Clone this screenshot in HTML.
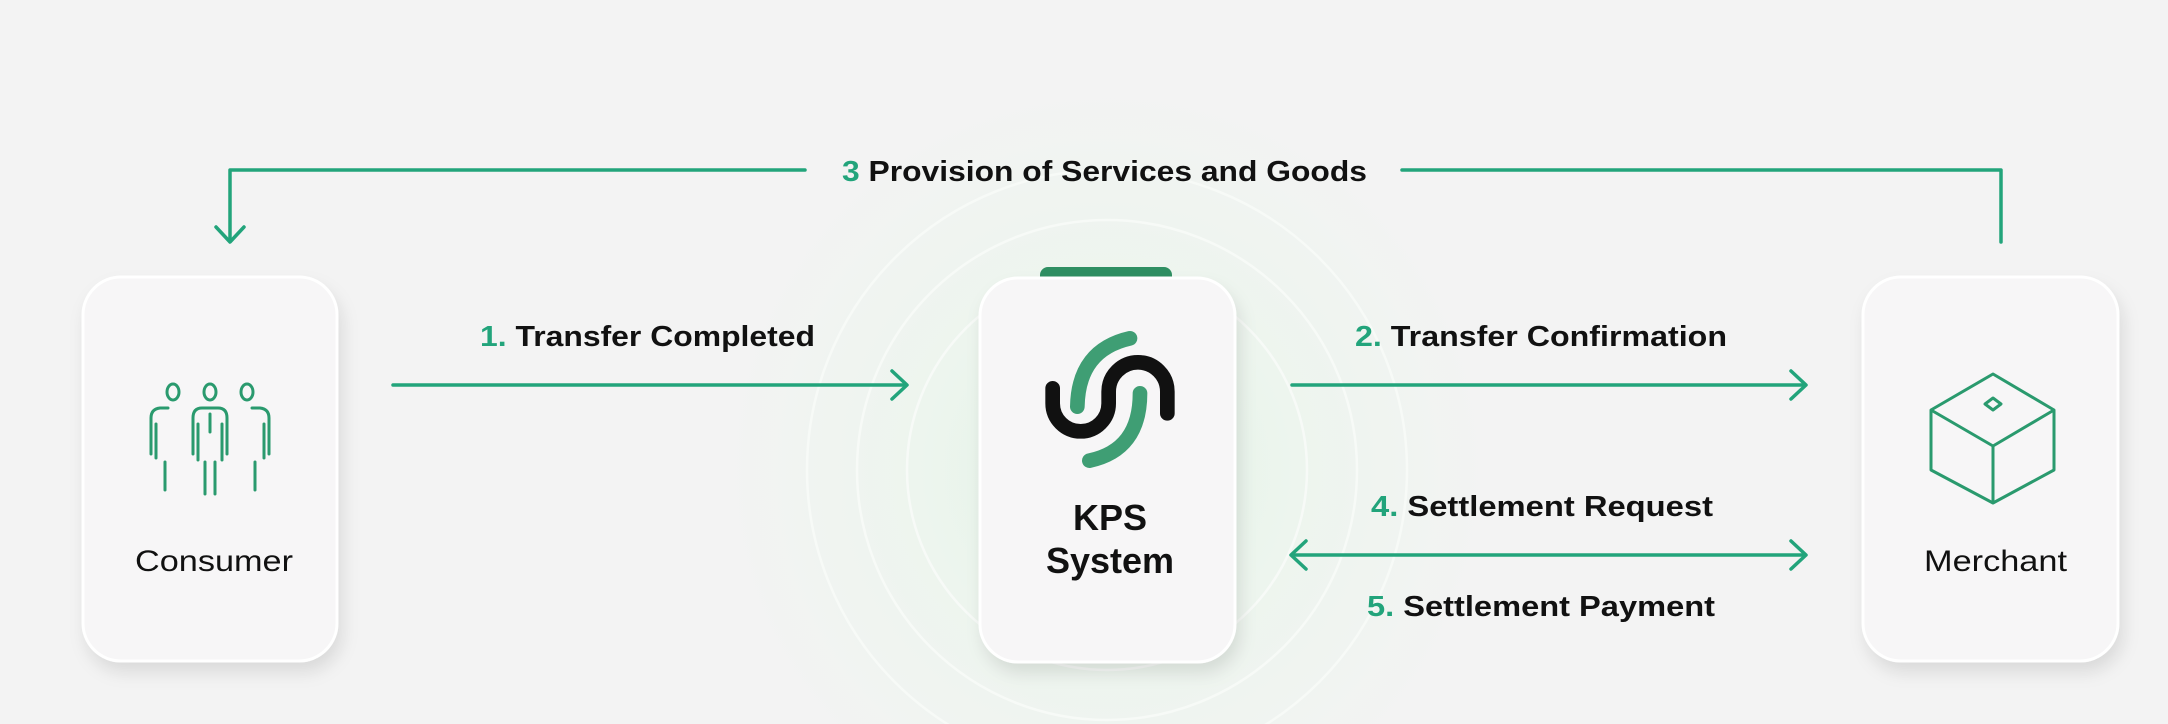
<!DOCTYPE html>
<html><head><meta charset="utf-8"><style>
html,body{margin:0;padding:0;width:2168px;height:724px;overflow:hidden;background:#f3f3f3}
svg{display:block}
text{font-family:"Liberation Sans",sans-serif;font-weight:700}
</style></head><body>
<svg width="2168" height="724" viewBox="0 0 2168 724" xmlns="http://www.w3.org/2000/svg" style="overflow:hidden">
<defs>
<radialGradient id="glow" cx="1107" cy="470" r="380" gradientUnits="userSpaceOnUse">
<stop offset="0" stop-color="#e2f3e6"/>
<stop offset="0.5" stop-color="#edf5ee"/>
<stop offset="1" stop-color="#f3f3f3"/>
</radialGradient>
<filter id="sh" x="-20%" y="-20%" width="140%" height="140%">
<feDropShadow dx="4" dy="10" stdDeviation="8" flood-color="#000" flood-opacity="0.10"/>
</filter>
<clipPath id="cp"><rect width="2168" height="724"/></clipPath>
</defs>
<rect width="2168" height="724" fill="#f3f3f3"/>
<g clip-path="url(#cp)">
<rect x="727" y="90" width="760" height="634" fill="url(#glow)"/>
<g fill="none" stroke="#f7faf7" stroke-width="2.5">
<circle cx="1107" cy="470" r="200"/><circle cx="1107" cy="470" r="250"/><circle cx="1107" cy="470" r="300"/>
</g>
</g>

<!-- cards -->
<rect x="83" y="277" width="254" height="384" rx="38" fill="#f7f6f7" stroke="#ffffff" stroke-width="3" filter="url(#sh)"/>
<rect x="1040" y="267" width="132" height="20" rx="8" fill="#2f8f62"/>
<rect x="980" y="278" width="255" height="384" rx="38" fill="#f7f6f7" stroke="#ffffff" stroke-width="3" filter="url(#sh)"/>
<rect x="1863" y="277" width="255" height="384" rx="38" fill="#f7f6f7" stroke="#ffffff" stroke-width="3" filter="url(#sh)"/>

<!-- connectors -->
<g fill="none" stroke="#22a47b" stroke-width="3.5" stroke-linecap="round" stroke-linejoin="round">
<polyline points="805,170 230,170 230,241"/>
<polyline points="216,227 230,242 244,227"/>
<polyline points="1402,170 2001,170 2001,242"/>
<line x1="393" y1="385" x2="906" y2="385"/>
<polyline points="892,371 907,385 892,399"/>
<line x1="1292" y1="385" x2="1805" y2="385"/>
<polyline points="1791,371 1806,385 1791,399"/>
<line x1="1292" y1="555" x2="1805" y2="555"/>
<polyline points="1791,541 1806,555 1791,569"/>
<polyline points="1306,541 1291,555 1306,569"/>
</g>

<!-- labels -->
<g font-size="29" fill="#111">
<text x="842" y="181" textLength="525" lengthAdjust="spacingAndGlyphs"><tspan fill="#22a47b">3 </tspan>Provision of Services and Goods</text>
<text x="480" y="346" textLength="335" lengthAdjust="spacingAndGlyphs"><tspan fill="#22a47b">1. </tspan>Transfer Completed</text>
<text x="1355" y="346" textLength="372" lengthAdjust="spacingAndGlyphs"><tspan fill="#22a47b">2. </tspan>Transfer Confirmation</text>
<text x="1371" y="516" textLength="342" lengthAdjust="spacingAndGlyphs"><tspan fill="#22a47b">4. </tspan>Settlement Request</text>
<text x="1367" y="616" textLength="348" lengthAdjust="spacingAndGlyphs"><tspan fill="#22a47b">5. </tspan>Settlement Payment</text>
</g>
<g font-size="30" fill="#111">
<text x="135" y="571" textLength="158" lengthAdjust="spacingAndGlyphs" style="font-weight:400">Consumer</text>
<text x="1924" y="571" textLength="143" lengthAdjust="spacingAndGlyphs" style="font-weight:400">Merchant</text>
</g>
<g font-size="36" fill="#111" text-anchor="middle">
<text x="1110" y="530">KPS</text>
<text x="1110" y="573">System</text>
</g>

<!-- KPS logo -->
<svg x="960" y="250" width="300" height="430" viewBox="0 0 900 1290">
<g fill="none" stroke-linecap="round" stroke-width="44">
<path d="M510,265 Q355,300 352,470" stroke="#3f9e74"/>
<path d="M540,430 Q540,600 388,632" stroke="#3f9e74"/>
<path d="M278,415 L278,460 A84,84 0 0 0 446,460 L446,425 A88,88 0 0 1 622,425 L622,490" stroke="#111"/>
</g>
</svg>

<!-- people icon -->
<g fill="none" stroke="#2a9a6e" stroke-width="3" stroke-linecap="round" stroke-linejoin="round">
<ellipse cx="173" cy="392" rx="6" ry="8"/>
<ellipse cx="210" cy="392" rx="6" ry="8"/>
<ellipse cx="247" cy="392" rx="6" ry="8"/>
<path d="M151,454 L151,418 Q151,409 160,408 L168,408"/>
<path d="M156,424 L156,458"/>
<path d="M165,462 L165,490"/>
<path d="M193,454 L193,418 Q193,408 202,408 L218,408 Q227,408 227,418 L227,454"/>
<path d="M198,424 L198,460 M222,424 L222,460"/>
<path d="M205,462 L205,494 M215,462 L215,494 M210,414 L210,432"/>
<path d="M252,408 L260,408 Q269,409 269,418 L269,454"/>
<path d="M264,424 L264,458"/>
<path d="M255,462 L255,490"/>
</g>

<!-- cube icon -->
<g fill="none" stroke="#2a9a6e" stroke-width="3" stroke-linejoin="round">
<polygon points="1993,374 2054,410 2054,470 1993,503 1931,470 1931,410"/>
<polyline points="1931,410 1993,446 2054,410"/>
<line x1="1993" y1="446" x2="1993" y2="503"/>
<polygon points="1993,398 2001,404 1993,410 1985,404"/>
</g>
</svg>
</body></html>
